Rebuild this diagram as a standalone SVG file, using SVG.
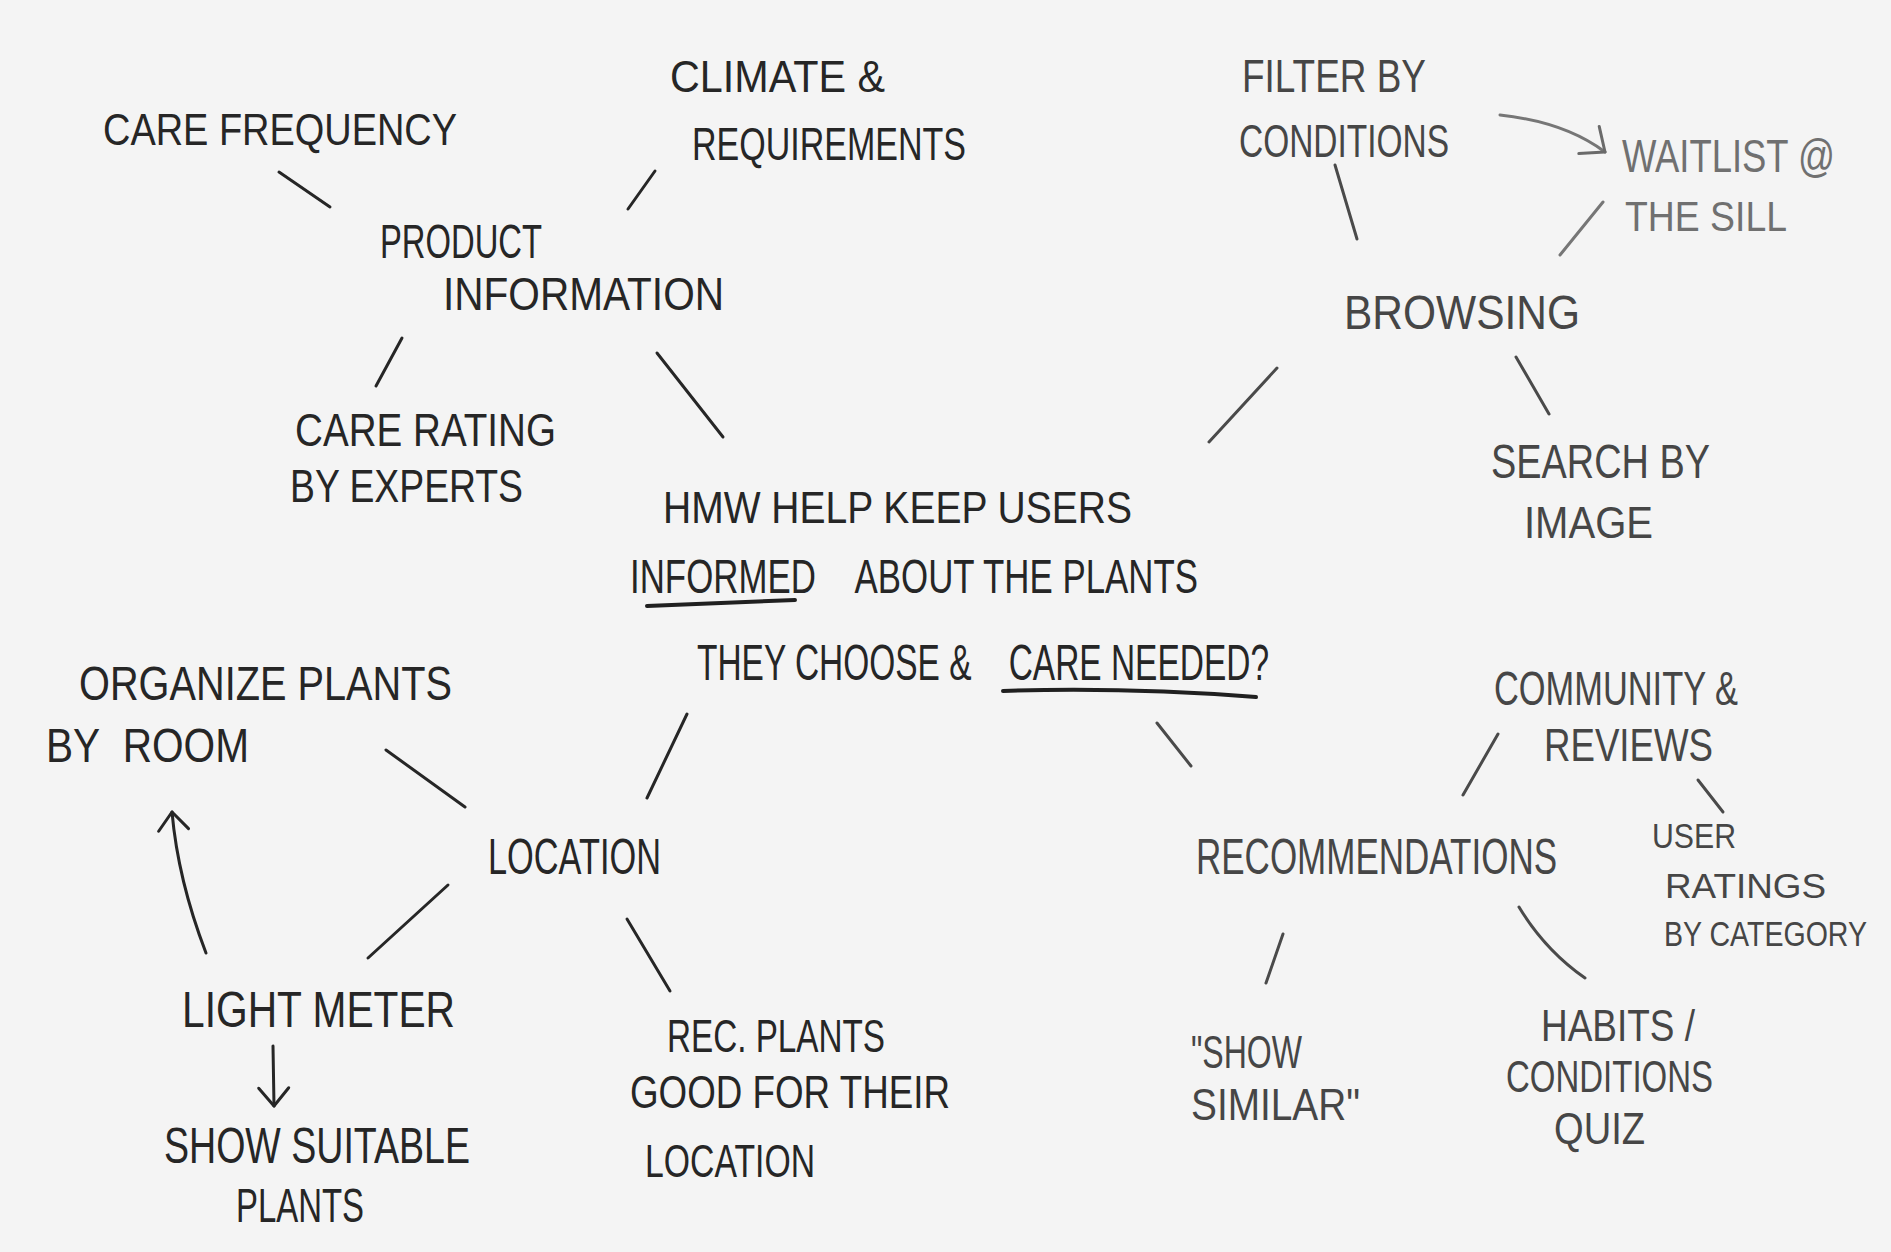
<svg xmlns="http://www.w3.org/2000/svg" width="1891" height="1252" viewBox="0 0 1891 1252">
<style>
text{font-family:"Liberation Sans Narrow","Liberation Sans",sans-serif;fill:#262626}
.g text{fill:#464646}
.l text{fill:#707070}
.c{fill:none;stroke:#262626;stroke-width:3;stroke-linecap:round}
.cg{stroke:#4a4a4a}
.cl{stroke:#767676}
.u{fill:none;stroke:#202020;stroke-width:4;stroke-linecap:round}
</style>
<defs>
<marker id="head" markerUnits="userSpaceOnUse" markerWidth="40" markerHeight="40" viewBox="-30 -20 40 40" refX="0" refY="0" orient="auto">
<path d="M-18,-15 L0,0 L-18,15" fill="none" stroke="#262626" stroke-width="3" stroke-linecap="round" stroke-linejoin="round"/>
</marker>
<marker id="headl" markerUnits="userSpaceOnUse" markerWidth="40" markerHeight="40" viewBox="-30 -20 40 40" refX="0" refY="0" orient="auto">
<path d="M-20,-17 L0,0 L-20,17" fill="none" stroke="#6a6a6a" stroke-width="3" stroke-linecap="round" stroke-linejoin="round"/>
</marker>
</defs>
<rect width="1891" height="1252" fill="#f4f4f4"/>

<g id="connectors">
<path class="c" d="M279,172 L330,207"/>
<path class="c" d="M655,171 L628,209"/>
<path class="c" d="M402,338 L376,386"/>
<path class="c" d="M657,353 L723,437"/>
<path class="c cg" d="M1335,165 L1357,239"/>
<path class="c cl" d="M1603,202 L1560,255"/>
<path class="c cg" d="M1277,368 L1209,442"/>
<path class="c cg" d="M1516,357 L1549,414"/>
<path class="c" d="M386,750 L465,807"/>
<path class="c" d="M687,714 L647,798"/>
<path class="c" d="M448,885 L368,958"/>
<path class="c" d="M627,919 L670,991"/>
<path class="c cg" d="M1157,723 L1191,766"/>
<path class="c cg" d="M1498,734 L1463,795"/>
<path class="c cg" d="M1698,780 L1723,812"/>
<path class="c cg" d="M1283,934 L1266,983"/>
<path class="c cg" d="M1519,907 Q1545,950 1585,978"/>
<path class="c cl" d="M1500,115 Q1565,122 1605,152" marker-end="url(#headl)"/>
<path class="c" d="M206,953 Q178,880 172,812" marker-end="url(#head)"/>
<path class="c" d="M273,1046 L274,1106" marker-end="url(#head)"/>
</g>

<g id="care-frequency"><text x="103" y="145" font-size="44" textLength="354" lengthAdjust="spacingAndGlyphs">CARE FREQUENCY</text></g>
<g id="climate-requirements">
<text x="670" y="92" font-size="44" textLength="215" lengthAdjust="spacingAndGlyphs">CLIMATE &amp;</text>
<text x="692" y="160" font-size="46" textLength="274" lengthAdjust="spacingAndGlyphs">REQUIREMENTS</text>
</g>
<g id="product-information">
<text x="380" y="258" font-size="48" textLength="162" lengthAdjust="spacingAndGlyphs">PRODUCT</text>
<text x="443" y="310" font-size="46" textLength="281" lengthAdjust="spacingAndGlyphs">INFORMATION</text>
</g>
<g id="care-rating">
<text x="295" y="446" font-size="46" textLength="261" lengthAdjust="spacingAndGlyphs">CARE RATING</text>
<text x="290" y="502" font-size="46" textLength="233" lengthAdjust="spacingAndGlyphs">BY EXPERTS</text>
</g>
<g id="hmw">
<text x="663" y="523" font-size="45" textLength="469" lengthAdjust="spacingAndGlyphs">HMW HELP KEEP USERS</text>
<text x="630" y="593" font-size="48" textLength="568" lengthAdjust="spacingAndGlyphs">INFORMED&#160;&#160;&#160;&#160;ABOUT THE PLANTS</text>
<text x="697" y="680" font-size="50" textLength="572" lengthAdjust="spacingAndGlyphs">THEY CHOOSE &amp;&#160;&#160;&#160;&#160;CARE NEEDED?</text>
<path class="u" d="M647,606 Q720,603 795,600"/>
<path class="u" d="M1003,691 Q1125,687 1256,697"/>
</g>
<g id="filter-by-conditions" class="g">
<text x="1242" y="92" font-size="46" textLength="184" lengthAdjust="spacingAndGlyphs">FILTER BY</text>
<text x="1239" y="157" font-size="46" textLength="210" lengthAdjust="spacingAndGlyphs">CONDITIONS</text>
</g>
<g id="waitlist" class="l">
<text x="1622" y="172" font-size="46" textLength="213" lengthAdjust="spacingAndGlyphs">WAITLIST @</text>
<text x="1625" y="231" font-size="42" textLength="162" lengthAdjust="spacingAndGlyphs">THE SILL</text>
</g>
<g id="browsing" class="g"><text x="1344" y="329" font-size="48" textLength="236" lengthAdjust="spacingAndGlyphs">BROWSING</text></g>
<g id="search-by-image" class="g">
<text x="1491" y="478" font-size="48" textLength="219" lengthAdjust="spacingAndGlyphs">SEARCH BY</text>
<text x="1524" y="538" font-size="44" textLength="129" lengthAdjust="spacingAndGlyphs">IMAGE</text>
</g>
<g id="organize-plants">
<text x="79" y="700" font-size="48" textLength="373" lengthAdjust="spacingAndGlyphs">ORGANIZE PLANTS</text>
<text x="46" y="762" font-size="48" textLength="203" lengthAdjust="spacingAndGlyphs">BY&#160;&#160;ROOM</text>
</g>
<g id="location"><text x="488" y="874" font-size="50" textLength="173" lengthAdjust="spacingAndGlyphs">LOCATION</text></g>
<g id="light-meter"><text x="182" y="1027" font-size="50" textLength="273" lengthAdjust="spacingAndGlyphs">LIGHT METER</text></g>
<g id="show-suitable-plants">
<text x="164" y="1163" font-size="50" textLength="306" lengthAdjust="spacingAndGlyphs">SHOW SUITABLE</text>
<text x="236" y="1222" font-size="48" textLength="128" lengthAdjust="spacingAndGlyphs">PLANTS</text>
</g>
<g id="rec-plants">
<text x="667" y="1052" font-size="46" textLength="218" lengthAdjust="spacingAndGlyphs">REC. PLANTS</text>
<text x="630" y="1108" font-size="46" textLength="320" lengthAdjust="spacingAndGlyphs">GOOD FOR THEIR</text>
<text x="645" y="1177" font-size="46" textLength="170" lengthAdjust="spacingAndGlyphs">LOCATION</text>
</g>
<g id="community-reviews" class="g">
<text x="1494" y="705" font-size="48" textLength="244" lengthAdjust="spacingAndGlyphs">COMMUNITY &amp;</text>
<text x="1544" y="761" font-size="46" textLength="169" lengthAdjust="spacingAndGlyphs">REVIEWS</text>
</g>
<g id="recommendations" class="g"><text transform="translate(1196,874) scale(1,1.15)" x="0" y="0" font-size="43" textLength="361" lengthAdjust="spacingAndGlyphs">RECOMMENDATIONS</text></g>
<g id="user-ratings" class="g">
<text transform="translate(1652,848) scale(1,1.15)" x="0" y="0" font-size="31" textLength="84" lengthAdjust="spacingAndGlyphs">USER</text>
<text transform="translate(1665,898) scale(1,1.15)" x="0" y="0" font-size="31" textLength="161" lengthAdjust="spacingAndGlyphs">RATINGS</text>
<text transform="translate(1664,946) scale(1,1.15)" x="0" y="0" font-size="31" textLength="203" lengthAdjust="spacingAndGlyphs">BY CATEGORY</text>
</g>
<g id="show-similar" class="g">
<text x="1191" y="1068" font-size="46" textLength="111" lengthAdjust="spacingAndGlyphs">"SHOW</text>
<text x="1191" y="1120" font-size="44" textLength="169" lengthAdjust="spacingAndGlyphs">SIMILAR"</text>
</g>
<g id="habits-quiz" class="g">
<text x="1541" y="1041" font-size="44" textLength="154" lengthAdjust="spacingAndGlyphs">HABITS /</text>
<text x="1506" y="1092" font-size="44" textLength="207" lengthAdjust="spacingAndGlyphs">CONDITIONS</text>
<text x="1554" y="1144" font-size="44" textLength="91" lengthAdjust="spacingAndGlyphs">QUIZ</text>
</g>
</svg>
